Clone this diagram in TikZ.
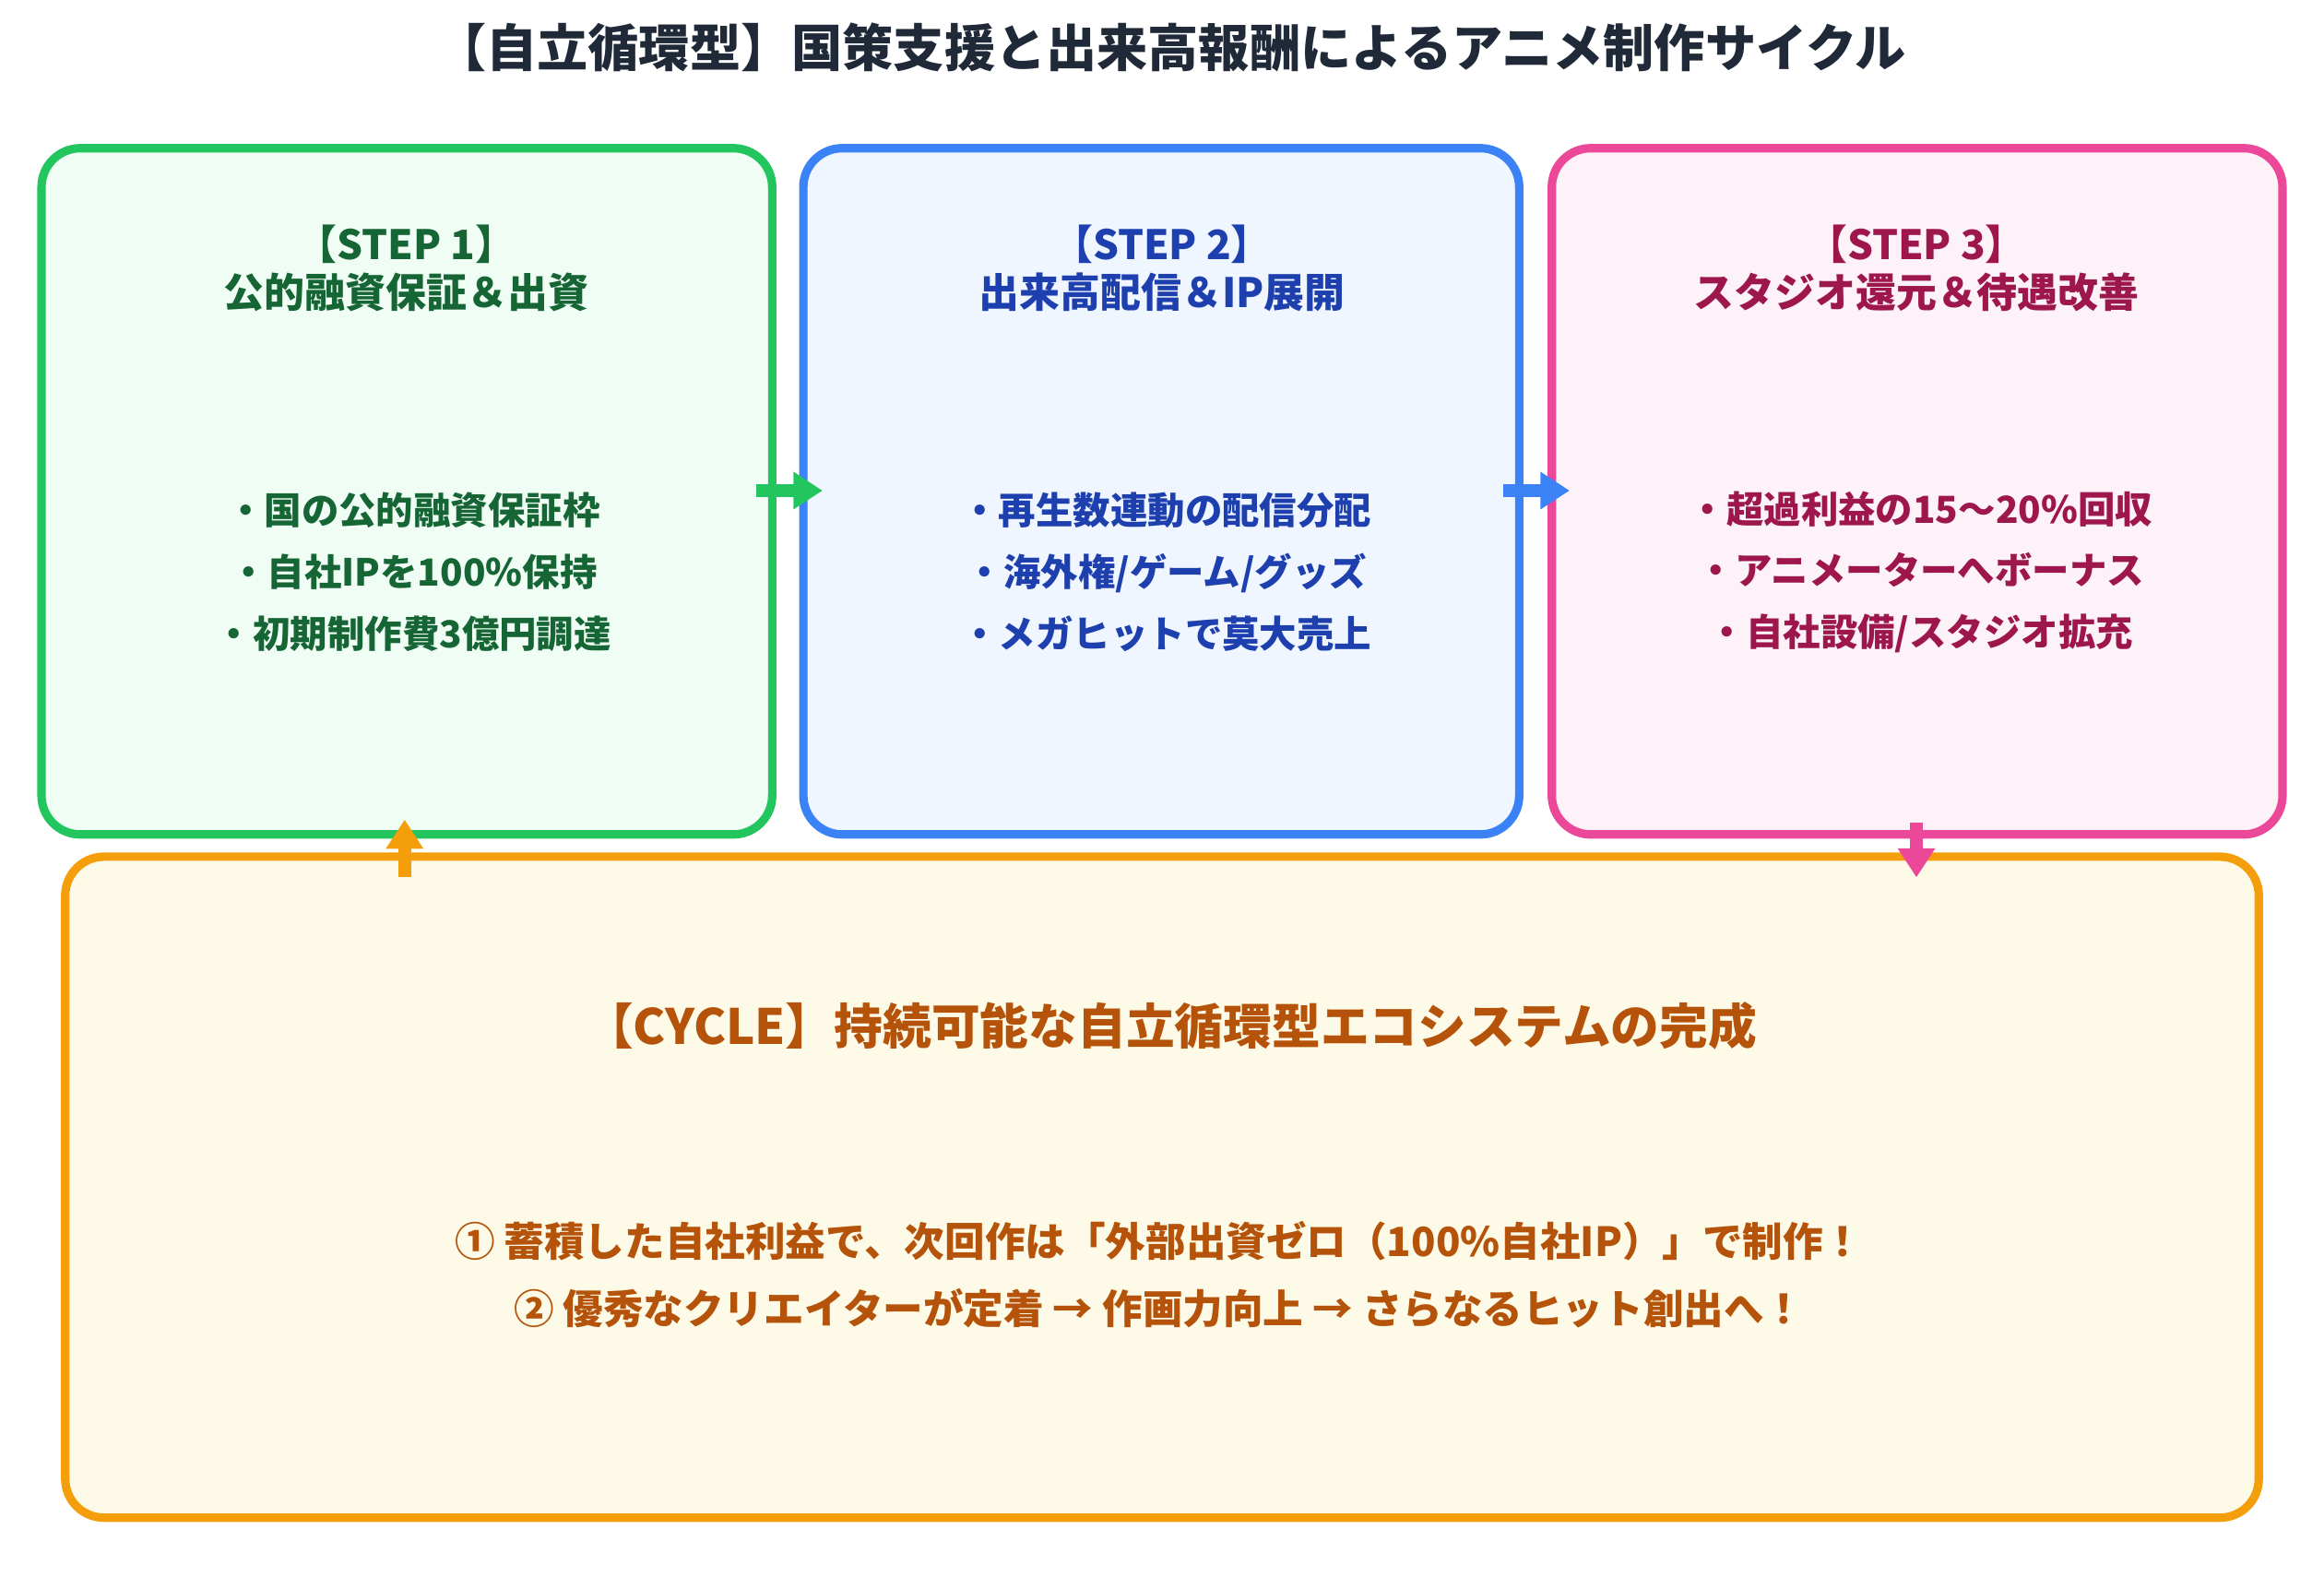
\documentclass[tikz,border=0pt]{standalone}
\usepackage{fontspec}
\setmainfont{Noto Sans CJK JP}
\usetikzlibrary{arrows.meta}
\definecolor{grnline}{HTML}{22C55E}\definecolor{grnfill}{HTML}{F0FDF4}\definecolor{grntext}{HTML}{166534}
\definecolor{bluline}{HTML}{3B82F6}\definecolor{blufill}{HTML}{EFF6FF}\definecolor{blutext}{HTML}{1E40AF}
\definecolor{pnkline}{HTML}{EC4899}\definecolor{pnkfill}{HTML}{FDF2F8}\definecolor{pnktext}{HTML}{9D174D}
\definecolor{orgline}{HTML}{F59E0B}\definecolor{orgfill}{HTML}{FEFAE8}\definecolor{orgtext}{HTML}{B45309}
\definecolor{ttltext}{HTML}{1F2937}
\begin{document}
\begin{tikzpicture}[x=0.01607cm, y=-0.01607cm, font=\bfseries,
  box/.style={rounded corners=12pt, line width=2.6pt},
  flow/.style={line width=4pt, -{Triangle[length=9pt,width=11pt]}},
  head/.style={align=center, font=\fontsize{12.5}{15}\selectfont\bfseries},
  items/.style={align=center, font=\fontsize{11.5}{19}\selectfont\bfseries}]
	\useasboundingbox (0,0) rectangle (1568,1064);
	\node[text=ttltext, font=\fontsize{15.7}{18}\selectfont\bfseries] (title) at (790,32) {【自立循環型】国策支援と出来高報酬によるアニメ制作サイクル};
	% steps
	\draw[box, draw=grnline, fill=grnfill] (28,100) rectangle (521,563);
	\draw[box, draw=bluline, fill=blufill] (542,100) rectangle (1025,563);
	\draw[box, draw=pnkline, fill=pnkfill] (1047,100) rectangle (1540,563);
	\draw[box, draw=orgline, fill=orgfill] (44,578) rectangle (1524,1024);
	\node[head, text=grntext] (s1) at (274,181) {【STEP 1】\\公的融資保証＆出資};
	\node[head, text=blutext] (s2) at (784,181) {【STEP 2】\\出来高配信＆IP展開};
	\node[head, text=pnktext] (s3) at (1293,181) {【STEP 3】\\スタジオ還元＆待遇改善};
	\node[items, text=grntext] (i1) at (279,386) {・国の公的融資保証枠\\・自社IPを100\%保持\\・初期制作費3億円調達};
	\node[items, text=blutext] (i2) at (787,386) {・再生数連動の配信分配\\・海外権/ゲーム/グッズ\\・メガヒットで莫大売上};
	\node[items, text=pnktext] (i3) at (1296,386) {・超過利益の15～20\%回収\\・アニメーターへボーナス\\・自社設備/スタジオ拡充};
	% cycle
	\node[text=orgtext, font=\fontsize{15}{18}\selectfont\bfseries] (cyc) at (790,692) {【CYCLE】持続可能な自立循環型エコシステムの完成};
	\node[text=orgtext, align=center, font=\fontsize{12.4}{20.5}\selectfont\bfseries] (cycl) at (782,860) {① 蓄積した自社利益で、次回作は「外部出資ゼロ（100\%自社IP）」で制作！\\② 優秀なクリエイターが定着 → 作画力向上 → さらなるヒット創出へ！};
	\coordinate (a1) at (510,331); \coordinate (b1) at (555,331);
	\coordinate (a2) at (1014,331); \coordinate (b2) at (1059,331);
	\coordinate (a3) at (1293,555); \coordinate (b3) at (1293,592);
	\coordinate (a4) at (273,592); \coordinate (b4) at (273,553);
	\draw[flow, draw=grnline, fill=grnline] (a1) -- (b1);
	\draw[flow, draw=bluline, fill=bluline] (a2) -- (b2);
	\draw[flow, draw=pnkline, fill=pnkline] (a3) -- (b3);
	\draw[flow, draw=orgline, fill=orgline] (a4) -- (b4);
\end{tikzpicture}
\end{document}
